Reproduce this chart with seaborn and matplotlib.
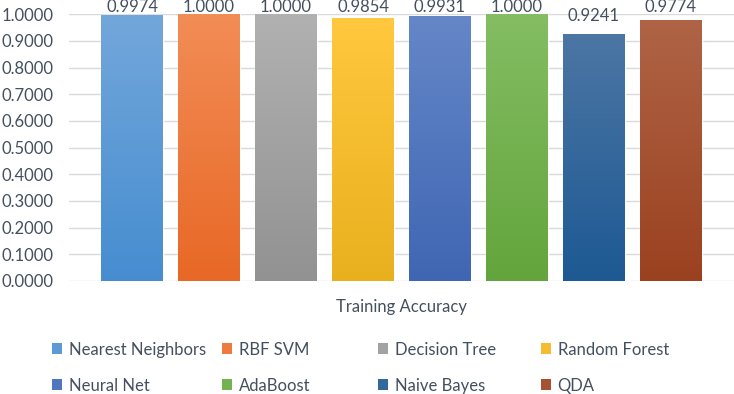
import matplotlib
matplotlib.use("Agg")
import matplotlib.pyplot as plt
import matplotlib.colors as mcolors
from matplotlib.patches import Patch
import numpy as np
import pandas as pd
import seaborn as sns

# data
category = ["Training Accuracy"]
models = ["Nearest Neighbors", "RBF SVM", "Decision Tree", "Random Forest",
          "Neural Net", "AdaBoost", "Naive Bayes", "QDA"]
accuracy = [0.9974, 1.0000, 1.0000, 0.9854, 0.9931, 1.0000, 0.9241, 0.9774]
y_ticks = [i / 10 for i in range(11)]

# gradient colours (top, bottom) in Excel style
top_colors = ["#73A7DB", "#F28D56", "#B1B1B1", "#FFC83E",
              "#6587C8", "#84BD63", "#4C76A4", "#AF6446"]
bottom_colors = ["#468DD0", "#E86826", "#929292", "#E9B01E",
                 "#4066B3", "#63A53C", "#1D5993", "#9B4120"]

TEXT = "#44505F"
GRID = "#D9D9D9"
FS = 12

sns.set_theme(style="white")
plt.rcParams["font.family"] = ["Lato", "DejaVu Sans"]

df = pd.DataFrame({
    "category": category * len(models),
    "model": models,
    "accuracy": accuracy,
})

fig = plt.figure(figsize=(7.34, 3.94), dpi=100)
ax = fig.add_axes([0.094, 0.287, 0.906, 0.677])

mid_colors = [mcolors.to_hex((np.array(mcolors.to_rgb(t)) + np.array(mcolors.to_rgb(b))) / 2)
              for t, b in zip(top_colors, bottom_colors)]

sns.barplot(data=df, x="category", y="accuracy", hue="model", hue_order=models,
            palette=mid_colors, width=0.926, gap=0.195, legend=False, ax=ax,
            zorder=2)

# gradient fill per bar + value labels (Excel keeps labels inside the chart area)
label_gap = 0.052
label_max = 1.0075
for cont, top, bot in zip(ax.containers, top_colors, bottom_colors):
    cmap = mcolors.LinearSegmentedColormap.from_list("g", [bot, top])
    for bar in cont:
        x0, w, h = bar.get_x(), bar.get_width(), bar.get_height()
        grad = np.linspace(0, 1, 256).reshape(-1, 1)
        im = ax.imshow(grad, cmap=cmap, origin="lower", aspect="auto",
                       extent=[x0, x0 + w, 0, h], zorder=3)
        im.set_clip_path(bar)
        ax.text(x0 + w / 2, min(h + label_gap, label_max), f"{h:.4f}",
                ha="center", va="baseline", fontsize=FS, color=TEXT, clip_on=False)

ax.set_xlim(-0.5, 0.5)
ax.set_ylim(0, 1)
ax.set_yticks(y_ticks)
ax.set_yticklabels([f"{v:.4f}" for v in y_ticks], fontsize=FS, color=TEXT)
ax.yaxis.grid(True, color=GRID, linewidth=1, zorder=0)
ax.set_axisbelow(True)
ax.tick_params(axis="both", length=0)
ax.tick_params(axis="x", pad=13, labelsize=FS, labelcolor=TEXT)
ax.tick_params(axis="y", pad=11)
ax.set_xlabel("")
ax.set_ylabel("")
for s in ax.spines.values():
    s.set_visible(False)

# legend: four columns of two entries, Excel-like fixed column positions
col_x = [52 / 734, 222 / 734, 378 / 734, 541 / 734]
for c, x in enumerate(col_x):
    idx = [c, c + 4]
    handles = [Patch(facecolor=mid_colors[i], edgecolor="none") for i in idx]
    leg = fig.legend(handles, [models[i] for i in idx], loc="upper left",
                     bbox_to_anchor=(x, 0.133), bbox_transform=fig.transFigure,
                     ncol=1, frameon=False, fontsize=FS, handlelength=0.6,
                     handleheight=0.6, handletextpad=0.4, labelspacing=1.2,
                     borderaxespad=0, borderpad=0)
    for t in leg.get_texts():
        t.set_color(TEXT)

fig.savefig("out.png", dpi=100)
